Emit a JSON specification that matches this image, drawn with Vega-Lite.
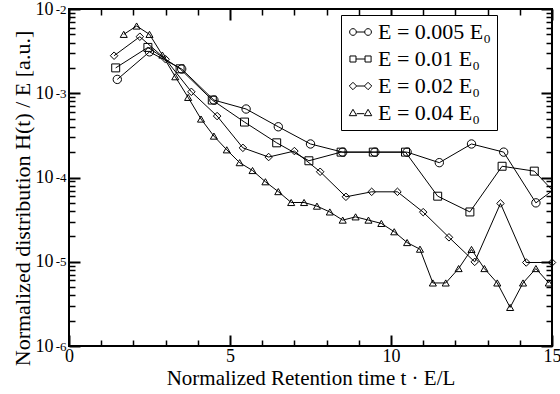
{
  "$schema": "https://vega.github.io/schema/vega-lite/v6.json",
  "width": 483,
  "height": 337,
  "autosize": {"type": "none"},
  "padding": {"left": 69, "top": 9, "right": 8, "bottom": 48},
  "background": "white",
  "data": {
    "values": [
      {"series": "E = 0.005 E₀", "t": 1.5, "h": 0.00146},
      {"series": "E = 0.005 E₀", "t": 2.5, "h": 0.0031},
      {"series": "E = 0.005 E₀", "t": 3.5, "h": 0.00194},
      {"series": "E = 0.005 E₀", "t": 4.5, "h": 0.00083},
      {"series": "E = 0.005 E₀", "t": 5.5, "h": 0.00065},
      {"series": "E = 0.005 E₀", "t": 6.5, "h": 0.0004},
      {"series": "E = 0.005 E₀", "t": 7.5, "h": 0.00025},
      {"series": "E = 0.005 E₀", "t": 8.5, "h": 0.0002},
      {"series": "E = 0.005 E₀", "t": 9.5, "h": 0.0002},
      {"series": "E = 0.005 E₀", "t": 10.5, "h": 0.0002},
      {"series": "E = 0.005 E₀", "t": 11.5, "h": 0.00015},
      {"series": "E = 0.005 E₀", "t": 12.5, "h": 0.00025},
      {"series": "E = 0.005 E₀", "t": 13.5, "h": 0.0002},
      {"series": "E = 0.005 E₀", "t": 14.5, "h": 0.00005},
      {"series": "E = 0.005 E₀", "t": 15.5, "h": 0.000096},
      {"series": "E = 0.01 E₀", "t": 1.45, "h": 0.002},
      {"series": "E = 0.01 E₀", "t": 2.45, "h": 0.0035},
      {"series": "E = 0.01 E₀", "t": 3.45, "h": 0.00195},
      {"series": "E = 0.01 E₀", "t": 4.45, "h": 0.00083},
      {"series": "E = 0.01 E₀", "t": 5.45, "h": 0.000455},
      {"series": "E = 0.01 E₀", "t": 6.45, "h": 0.000258},
      {"series": "E = 0.01 E₀", "t": 7.45, "h": 0.000158},
      {"series": "E = 0.01 E₀", "t": 8.45, "h": 0.0002},
      {"series": "E = 0.01 E₀", "t": 9.45, "h": 0.0002},
      {"series": "E = 0.01 E₀", "t": 10.45, "h": 0.0002},
      {"series": "E = 0.01 E₀", "t": 11.45, "h": 0.00006},
      {"series": "E = 0.01 E₀", "t": 12.45, "h": 0.000039},
      {"series": "E = 0.01 E₀", "t": 13.45, "h": 0.000136},
      {"series": "E = 0.01 E₀", "t": 14.45, "h": 0.000119},
      {"series": "E = 0.01 E₀", "t": 15.45, "h": 0.000047},
      {"series": "E = 0.02 E₀", "t": 1.4, "h": 0.00279},
      {"series": "E = 0.02 E₀", "t": 2.2, "h": 0.00469},
      {"series": "E = 0.02 E₀", "t": 3.0, "h": 0.00253},
      {"series": "E = 0.02 E₀", "t": 3.8, "h": 0.00104},
      {"series": "E = 0.02 E₀", "t": 4.6, "h": 0.000536},
      {"series": "E = 0.02 E₀", "t": 5.4, "h": 0.000225},
      {"series": "E = 0.02 E₀", "t": 6.2, "h": 0.000175},
      {"series": "E = 0.02 E₀", "t": 7.0, "h": 0.000206},
      {"series": "E = 0.02 E₀", "t": 7.8, "h": 0.000117},
      {"series": "E = 0.02 E₀", "t": 8.6, "h": 0.000059},
      {"series": "E = 0.02 E₀", "t": 9.4, "h": 0.0000676},
      {"series": "E = 0.02 E₀", "t": 10.2, "h": 0.0000676},
      {"series": "E = 0.02 E₀", "t": 11.0, "h": 0.0000388},
      {"series": "E = 0.02 E₀", "t": 11.8, "h": 0.0000195},
      {"series": "E = 0.02 E₀", "t": 12.6, "h": 0.00000997},
      {"series": "E = 0.02 E₀", "t": 13.4, "h": 0.0000492},
      {"series": "E = 0.02 E₀", "t": 14.2, "h": 0.0000098},
      {"series": "E = 0.02 E₀", "t": 15.0, "h": 0.0000098},
      {"series": "E = 0.04 E₀", "t": 1.7, "h": 0.005},
      {"series": "E = 0.04 E₀", "t": 2.1, "h": 0.00628},
      {"series": "E = 0.04 E₀", "t": 2.5, "h": 0.005},
      {"series": "E = 0.04 E₀", "t": 2.9, "h": 0.00284},
      {"series": "E = 0.04 E₀", "t": 3.3, "h": 0.00157},
      {"series": "E = 0.04 E₀", "t": 3.7, "h": 0.000893},
      {"series": "E = 0.04 E₀", "t": 4.1, "h": 0.000494},
      {"series": "E = 0.04 E₀", "t": 4.5, "h": 0.00031},
      {"series": "E = 0.04 E₀", "t": 4.9, "h": 0.000213},
      {"series": "E = 0.04 E₀", "t": 5.3, "h": 0.00015},
      {"series": "E = 0.04 E₀", "t": 5.7, "h": 0.000121},
      {"series": "E = 0.04 E₀", "t": 6.1, "h": 0.000089},
      {"series": "E = 0.04 E₀", "t": 6.5, "h": 0.000068},
      {"series": "E = 0.04 E₀", "t": 6.9, "h": 0.0000505},
      {"series": "E = 0.04 E₀", "t": 7.3, "h": 0.0000505},
      {"series": "E = 0.04 E₀", "t": 7.7, "h": 0.0000457},
      {"series": "E = 0.04 E₀", "t": 8.1, "h": 0.000039},
      {"series": "E = 0.04 E₀", "t": 8.5, "h": 0.0000312},
      {"series": "E = 0.04 E₀", "t": 8.9, "h": 0.0000341},
      {"series": "E = 0.04 E₀", "t": 9.3, "h": 0.0000312},
      {"series": "E = 0.04 E₀", "t": 9.7, "h": 0.0000285},
      {"series": "E = 0.04 E₀", "t": 10.1, "h": 0.0000227},
      {"series": "E = 0.04 E₀", "t": 10.5, "h": 0.0000169},
      {"series": "E = 0.04 E₀", "t": 10.9, "h": 0.0000141},
      {"series": "E = 0.04 E₀", "t": 11.3, "h": 0.0000056},
      {"series": "E = 0.04 E₀", "t": 11.7, "h": 0.0000056},
      {"series": "E = 0.04 E₀", "t": 12.1, "h": 0.0000083},
      {"series": "E = 0.04 E₀", "t": 12.5, "h": 0.000014},
      {"series": "E = 0.04 E₀", "t": 12.9, "h": 0.0000083},
      {"series": "E = 0.04 E₀", "t": 13.3, "h": 0.0000056},
      {"series": "E = 0.04 E₀", "t": 13.7, "h": 0.00000287},
      {"series": "E = 0.04 E₀", "t": 14.1, "h": 0.0000056},
      {"series": "E = 0.04 E₀", "t": 14.5, "h": 0.0000083},
      {"series": "E = 0.04 E₀", "t": 14.9, "h": 0.0000056}
    ]
  },
  "resolve": {
    "axis": {"x": "independent", "y": "independent"},
    "scale": {"shape": "independent"}
  },
  "layer": [
    {
      "mark": {"type": "line", "clip": true, "color": "black", "strokeWidth": 1},
      "encoding": {
        "x": {"field": "t", "type": "quantitative", "scale": {"domain": [0, 15], "nice": false, "zero": false},
          "axis": {"orient": "bottom", "values": [0, 5, 10, 15], "ticks": false, "labelFontSize": 18, "labelPadding": 1,
            "title": "Normalized Retention time t · E/L", "titleFontSize": 21, "titleY": 38, "titleBaseline": "alphabetic"}},
        "y": {"field": "h", "type": "quantitative", "scale": {"type": "log", "domain": [0.000001, 0.01], "nice": false},
          "axis": {"orient": "left", "values": [0.000001, 0.00001, 0.0001, 0.001, 0.01], "ticks": false, "labelExpr": "'10'",
            "labelFontSize": 18, "labelPadding": 16, "labelDy": 3, "labelBaseline": "middle", "labelAlign": "right",
            "title": "Normalized distribution H(t) / E [a.u.]", "titleFontSize": 22, "titleX": -47, "titleY": 189,
            "titleAngle": -90, "titleBaseline": "middle"}},
        "detail": {"field": "series"}
      }
    },
    {
      "transform": [{"filter": "datum.t <= 15.05"}],
      "mark": {"type": "point", "filled": false, "stroke": "black", "strokeWidth": 1, "opacity": 1},
      "encoding": {
        "x": {"field": "t", "type": "quantitative", "scale": {"domain": [0, 15], "nice": false, "zero": false},
          "axis": {"orient": "bottom", "values": [0, 5, 10, 15], "labels": false, "tickSize": -11, "tickWidth": 2, "title": null}},
        "y": {"field": "h", "type": "quantitative", "scale": {"type": "log", "domain": [0.000001, 0.01], "nice": false},
          "axis": {"orient": "left", "values": [0.000001, 0.00001, 0.0001, 0.001, 0.01], "labels": false, "tickSize": -11, "tickWidth": 2, "title": null}},
        "shape": {"field": "series", "type": "nominal",
          "scale": {"domain": ["E = 0.005 E₀", "E = 0.01 E₀", "E = 0.02 E₀", "E = 0.04 E₀"], "range": ["circle", "square", "diamond", "triangle-up"]},
          "legend": null},
        "size": {"field": "series", "type": "nominal",
          "scale": {"domain": ["E = 0.005 E₀", "E = 0.01 E₀", "E = 0.02 E₀", "E = 0.04 E₀"], "range": [70, 50, 68, 64]},
          "legend": null}
      }
    },
    {
      "mark": {"type": "point", "opacity": 0},
      "encoding": {
        "x": {"field": "t", "type": "quantitative", "scale": {"domain": [0, 15], "nice": false, "zero": false},
          "axis": {"orient": "bottom", "values": [1, 2, 3, 4, 6, 7, 8, 9, 11, 12, 13, 14], "labels": false, "tickSize": -6, "tickWidth": 1.5, "title": null}},
        "y": {"field": "h", "type": "quantitative", "scale": {"type": "log", "domain": [0.000001, 0.01], "nice": false},
          "axis": {"orient": "left", "values": [0.000002, 0.000003, 0.000004, 0.000005, 0.000006, 0.000007, 0.000008, 0.000009, 0.00002, 0.00003, 0.00004, 0.00005, 0.00006, 0.00007, 0.00008, 0.00009, 0.0002, 0.0003, 0.0004, 0.0005, 0.0006, 0.0007, 0.0008, 0.0009, 0.002, 0.003, 0.004, 0.005, 0.006, 0.007, 0.008, 0.009], "labels": false, "tickSize": -6, "tickWidth": 1.5, "title": null}}
      }
    },
    {
      "mark": {"type": "point", "opacity": 0},
      "encoding": {
        "x": {"field": "t", "type": "quantitative", "scale": {"domain": [0, 15], "nice": false, "zero": false},
          "axis": {"orient": "top", "values": [0, 5, 10, 15], "labels": false, "tickSize": -11, "tickWidth": 2, "title": null}},
        "y": {"field": "h", "type": "quantitative", "scale": {"type": "log", "domain": [0.000001, 0.01], "nice": false},
          "axis": {"orient": "right", "values": [0.000001, 0.00001, 0.0001, 0.001, 0.01], "labels": false, "tickSize": -11, "tickWidth": 2, "title": null}}
      }
    },
    {
      "mark": {"type": "point", "opacity": 0},
      "encoding": {
        "x": {"field": "t", "type": "quantitative", "scale": {"domain": [0, 15], "nice": false, "zero": false},
          "axis": {"orient": "top", "values": [1, 2, 3, 4, 6, 7, 8, 9, 11, 12, 13, 14], "labels": false, "tickSize": -6, "tickWidth": 1.5, "title": null}},
        "y": {"field": "h", "type": "quantitative", "scale": {"type": "log", "domain": [0.000001, 0.01], "nice": false},
          "axis": {"orient": "right", "values": [0.000002, 0.000003, 0.000004, 0.000005, 0.000006, 0.000007, 0.000008, 0.000009, 0.00002, 0.00003, 0.00004, 0.00005, 0.00006, 0.00007, 0.00008, 0.00009, 0.0002, 0.0003, 0.0004, 0.0005, 0.0006, 0.0007, 0.0008, 0.0009, 0.002, 0.003, 0.004, 0.005, 0.006, 0.007, 0.008, 0.009], "labels": false, "tickSize": -6, "tickWidth": 1.5, "title": null}}
      }
    },
    {
      "mark": {"type": "point", "opacity": 0, "filled": false, "stroke": "black"},
      "encoding": {
        "x": {"field": "t", "type": "quantitative", "scale": {"domain": [0, 15], "nice": false, "zero": false}, "axis": null},
        "y": {"field": "h", "type": "quantitative", "scale": {"type": "log", "domain": [0.000001, 0.01], "nice": false},
          "axis": {"orient": "left", "values": [0.000001, 0.00001, 0.0001, 0.001, 0.01], "ticks": false,
            "labelExpr": "'' + round(log(datum.value) / LN10)", "labelFontSize": 13, "labelPadding": 3, "labelDy": -6,
            "labelBaseline": "middle", "labelAlign": "right", "title": null}},
        "shape": {"field": "series", "type": "nominal",
          "scale": {"domain": ["E = 0.005 E₀", "E = 0.01 E₀", "E = 0.02 E₀", "E = 0.04 E₀"],
            "range": [
              "M-2.5,0A1,1 0 1,0 -0.5,0A1,1 0 1,0 -2.5,0M-0.5,0L2,0M2,0A1,1 0 1,0 4,0A1,1 0 1,0 2,0",
              "M-2.4,-0.9L-0.6,-0.9L-0.6,0.9L-2.4,0.9ZM-0.6,0L2.1,0M2.1,-0.9L3.9,-0.9L3.9,0.9L2.1,0.9Z",
              "M-2.6,0L-1.5,-1.1L-0.4,0L-1.5,1.1ZM-0.4,0L1.9,0M1.9,0L3,-1.1L4.1,0L3,1.1Z",
              "M-2.6,0.8L-1.5,-1.1L-0.4,0.8ZM-0.4,0.2L1.9,0.2M1.9,0.8L3,-1.1L4.1,0.8Z"
            ]},
          "legend": {"orient": "none", "legendX": 272, "legendY": 6, "title": null,
            "labelFont": "Liberation Serif", "labelFontSize": 22, "labelColor": "black",
            "symbolSize": 45, "symbolStrokeWidth": 1, "symbolStrokeColor": "black", "symbolFillColor": "transparent", "symbolOpacity": 1,
            "strokeColor": "black", "fillColor": "white", "padding": 6, "rowPadding": 5, "labelOffset": 9,
            "encode": {"legend": {"update": {"strokeWidth": {"value": 1.5}}}}}}
      }
    }
  ],
  "config": {
    "view": {"stroke": "black", "strokeWidth": 2},
    "font": "Liberation Serif",
    "axis": {"domain": false, "grid": false, "labelFont": "Liberation Serif", "titleFont": "Liberation Serif",
      "labelColor": "black", "titleColor": "black", "titleFontWeight": "normal", "tickColor": "black",
      "labelFlush": false, "labelOverlap": false, "labelBound": false}
  }
}
